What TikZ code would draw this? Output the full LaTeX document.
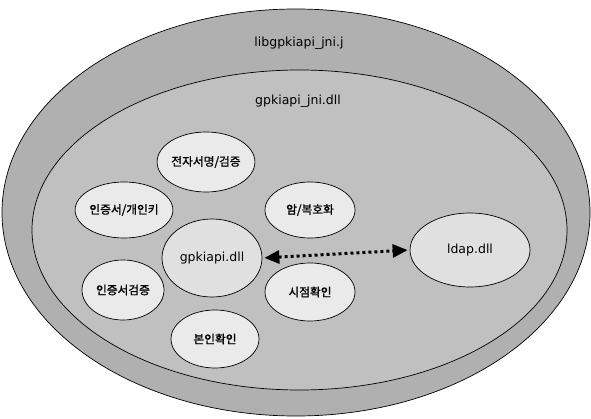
\documentclass[tikz,border=0pt]{standalone}
\usepackage{fontspec}
\setmainfont{DejaVu Sans}
\newfontfamily\kr[FakeBold=1.2]{Noto Sans CJK KR}
\usetikzlibrary{arrows.meta,shapes.geometric}
\definecolor{outerc}{RGB}{176,176,176}
\definecolor{innerc}{RGB}{192,192,192}
\definecolor{smallc}{RGB}{234,234,234}
\definecolor{corec}{RGB}{224,224,224}
\tikzset{
  ring/.style={draw=black, line width=0.7pt},
  func/.style={ellipse, draw=black, line width=0.7pt, fill=smallc, inner sep=0pt, font=\kr\fontsize{11.7}{13}\selectfont},
  lbl/.style={font=\fontsize{12.5}{14}\selectfont, inner sep=0pt},
  link/.style={line width=3pt, dash pattern=on 3pt off 3pt, {Triangle[length=15pt,width=13pt]}-{Triangle[length=15pt,width=13pt]}, shorten <=2pt, shorten >=2pt}
}
\begin{document}
\begin{tikzpicture}[x=1pt,y=-1pt]
\useasboundingbox[fill=white] (0,0) rectangle (591,419);
\node[ring, ellipse, fill=outerc, minimum width=588, minimum height=407, inner sep=0pt] (outer) at (296,212.5) {};
\node[ring, ellipse, fill=innerc, minimum width=535, minimum height=320, inner sep=0pt] (inner) at (299.5,230) {};
\node[lbl] (outerlbl) at (299,43) {libgpkiapi\_jni.j};
\node[lbl] (innerlbl) at (298,101) {gpkiapi\_jni.dll};
\node[func, minimum width=86, minimum height=60] (sign) at (206,162) {전자서명/검증};
\node[func, minimum width=92, minimum height=56] (cert) at (124,210) {인증서/개인키};
\node[func, minimum width=90, minimum height=56] (enc) at (310,210) {암/복호화};
\node[func, fill=corec, minimum width=100, minimum height=78, font=\fontsize{12.5}{14}\selectfont] (core) at (212,258) {gpkiapi.dll};
\node[func, minimum width=82, minimum height=60] (verify) at (123,290) {인증서검증};
\node[func, minimum width=90, minimum height=58] (time) at (310,292) {시점확인};
\node[func, minimum width=88, minimum height=58] (self) at (215,339) {본인확인};
\node[func, fill=corec, minimum width=120, minimum height=74, font=\fontsize{12.5}{14}\selectfont] (ldap) at (470,250) {ldap.dll};
\draw[link] (core.east) -- (ldap.west);
\end{tikzpicture}
\end{document}
